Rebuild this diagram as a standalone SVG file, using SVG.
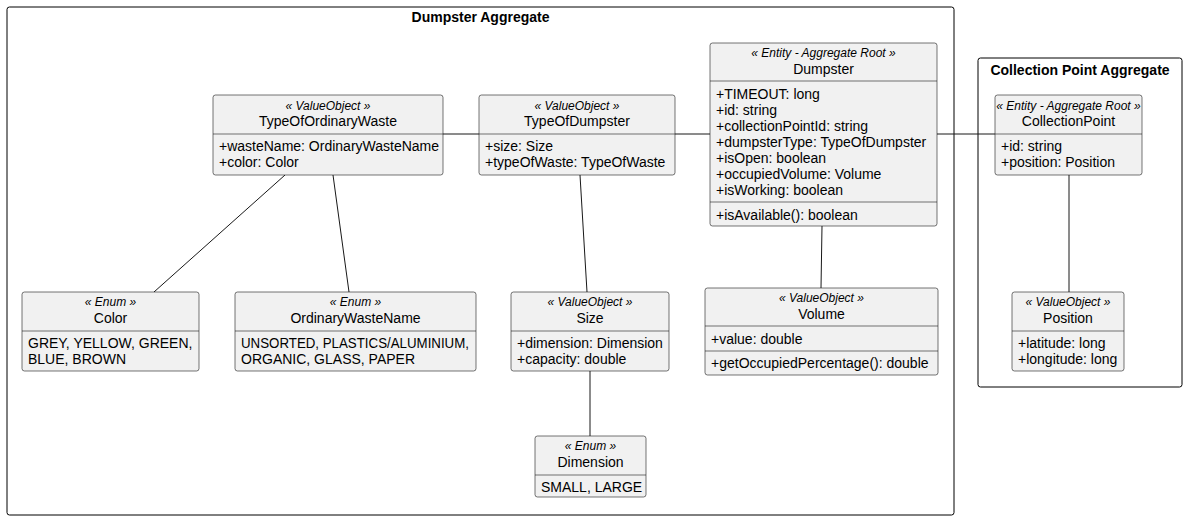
<svg xmlns="http://www.w3.org/2000/svg" width="1187" height="520" viewBox="0 0 1187 520">
<style>
text{font-family:"Liberation Sans",Arial,sans-serif;fill:#000}
.pkg{fill:none;stroke:#000;stroke-width:1}
.ptitle{font-size:14px;font-weight:bold;text-anchor:middle}
.box{fill:#F1F1F1;stroke:#181818;stroke-width:0.6}
.sep{stroke:#181818;stroke-width:0.6}
.st{font-size:12px;font-style:italic;text-anchor:middle}
.nm{font-size:14px;text-anchor:middle}
.at{font-size:14px}
.c line{stroke:#181818;stroke-width:1}
</style>
<g id="pkg-dumpster">
<rect class="pkg" x="7" y="7" width="947" height="508" rx="2.5"/>
<text class="ptitle" x="480.5" y="22">Dumpster Aggregate</text>
</g>
<g id="pkg-collection">
<rect class="pkg" x="978" y="58" width="204" height="329" rx="2.5"/>
<text class="ptitle" x="1080" y="75">Collection Point Aggregate</text>
</g>
<g class="c" id="connectors">
<line x1="443" y1="134" x2="479" y2="134"/>
<line x1="675" y1="134" x2="710" y2="134"/>
<line x1="937" y1="134" x2="995" y2="134"/>
<line x1="285" y1="175" x2="154" y2="292"/>
<line x1="333" y1="175" x2="349" y2="292"/>
<line x1="580" y1="175" x2="587" y2="292"/>
<line x1="822" y1="226" x2="821" y2="288"/>
<line x1="590" y1="371" x2="590" y2="436"/>
<line x1="1069" y1="175" x2="1069" y2="292"/>
</g>
<g id="TypeOfOrdinaryWaste">
<rect class="box" x="213" y="95" width="230" height="80" rx="2.5"/>
<text class="st" x="328" y="110">« ValueObject »</text>
<text class="nm" x="328" y="126">TypeOfOrdinaryWaste</text>
<line class="sep" x1="213" y1="134" x2="443" y2="134"/>
<text class="at" x="219" y="151">+wasteName: OrdinaryWasteName</text>
<text class="at" x="219" y="167">+color: Color</text>
</g>
<g id="TypeOfDumpster">
<rect class="box" x="479" y="95" width="196" height="80" rx="2.5"/>
<text class="st" x="577" y="110">« ValueObject »</text>
<text class="nm" x="577" y="126">TypeOfDumpster</text>
<line class="sep" x1="479" y1="134" x2="675" y2="134"/>
<text class="at" x="485" y="151">+size: Size</text>
<text class="at" x="485" y="167">+typeOfWaste: TypeOfWaste</text>
</g>
<g id="Dumpster">
<rect class="box" x="710" y="43" width="227" height="183" rx="2.5"/>
<text class="st" x="823.5" y="57">« Entity - Aggregate Root »</text>
<text class="nm" x="823.5" y="74">Dumpster</text>
<line class="sep" x1="710" y1="81" x2="937" y2="81"/>
<text class="at" x="716" y="99">+TIMEOUT: long</text>
<text class="at" x="716" y="115">+id: string</text>
<text class="at" x="716" y="131">+collectionPointId: string</text>
<text class="at" x="716" y="147">+dumpsterType: TypeOfDumpster</text>
<text class="at" x="716" y="163">+isOpen: boolean</text>
<text class="at" x="716" y="179">+occupiedVolume: Volume</text>
<text class="at" x="716" y="195">+isWorking: boolean</text>
<line class="sep" x1="710" y1="202" x2="937" y2="202"/>
<text class="at" x="716" y="220">+isAvailable(): boolean</text>
</g>
<g id="CollectionPoint">
<rect class="box" x="995" y="95" width="147" height="80" rx="2.5"/>
<text class="st" x="1068.5" y="110">« Entity - Aggregate Root »</text>
<text class="nm" x="1068.5" y="126">CollectionPoint</text>
<line class="sep" x1="995" y1="134" x2="1142" y2="134"/>
<text class="at" x="1001" y="151">+id: string</text>
<text class="at" x="1001" y="167">+position: Position</text>
</g>
<g id="Color">
<rect class="box" x="22" y="292" width="177" height="79" rx="2.5"/>
<text class="st" x="110.5" y="306">« Enum »</text>
<text class="nm" x="110.5" y="323">Color</text>
<line class="sep" x1="22" y1="331" x2="199" y2="331"/>
<text class="at" x="28" y="348">GREY, YELLOW, GREEN,</text>
<text class="at" x="28" y="364">BLUE, BROWN</text>
</g>
<g id="OrdinaryWasteName">
<rect class="box" x="235" y="292" width="241" height="79" rx="2.5"/>
<text class="st" x="355.5" y="306">« Enum »</text>
<text class="nm" x="355.5" y="323">OrdinaryWasteName</text>
<line class="sep" x1="235" y1="331" x2="476" y2="331"/>
<text class="at" x="241" y="348" textLength="228" lengthAdjust="spacingAndGlyphs">UNSORTED, PLASTICS/ALUMINIUM,</text>
<text class="at" x="241" y="364">ORGANIC, GLASS, PAPER</text>
</g>
<g id="Size">
<rect class="box" x="511" y="292" width="158" height="79" rx="2.5"/>
<text class="st" x="590" y="306">« ValueObject »</text>
<text class="nm" x="590" y="323">Size</text>
<line class="sep" x1="511" y1="331" x2="669" y2="331"/>
<text class="at" x="517" y="348">+dimension: Dimension</text>
<text class="at" x="517" y="364">+capacity: double</text>
</g>
<g id="Volume">
<rect class="box" x="705" y="288" width="233" height="87" rx="2.5"/>
<text class="st" x="821.5" y="302">« ValueObject »</text>
<text class="nm" x="821.5" y="319">Volume</text>
<line class="sep" x1="705" y1="326" x2="938" y2="326"/>
<text class="at" x="711" y="344">+value: double</text>
<line class="sep" x1="705" y1="351" x2="938" y2="351"/>
<text class="at" x="711" y="368">+getOccupiedPercentage(): double</text>
</g>
<g id="Position">
<rect class="box" x="1012" y="292" width="112" height="79" rx="2.5"/>
<text class="st" x="1068" y="306">« ValueObject »</text>
<text class="nm" x="1068" y="323">Position</text>
<line class="sep" x1="1012" y1="331" x2="1124" y2="331"/>
<text class="at" x="1018" y="348">+latitude: long</text>
<text class="at" x="1018" y="364">+longitude: long</text>
</g>
<g id="Dimension">
<rect class="box" x="535" y="436" width="111" height="61" rx="2.5"/>
<text class="st" x="590.5" y="450">« Enum »</text>
<text class="nm" x="590.5" y="467">Dimension</text>
<line class="sep" x1="535" y1="475" x2="646" y2="475"/>
<text class="at" x="541" y="492">SMALL, LARGE</text>
</g>
</svg>
